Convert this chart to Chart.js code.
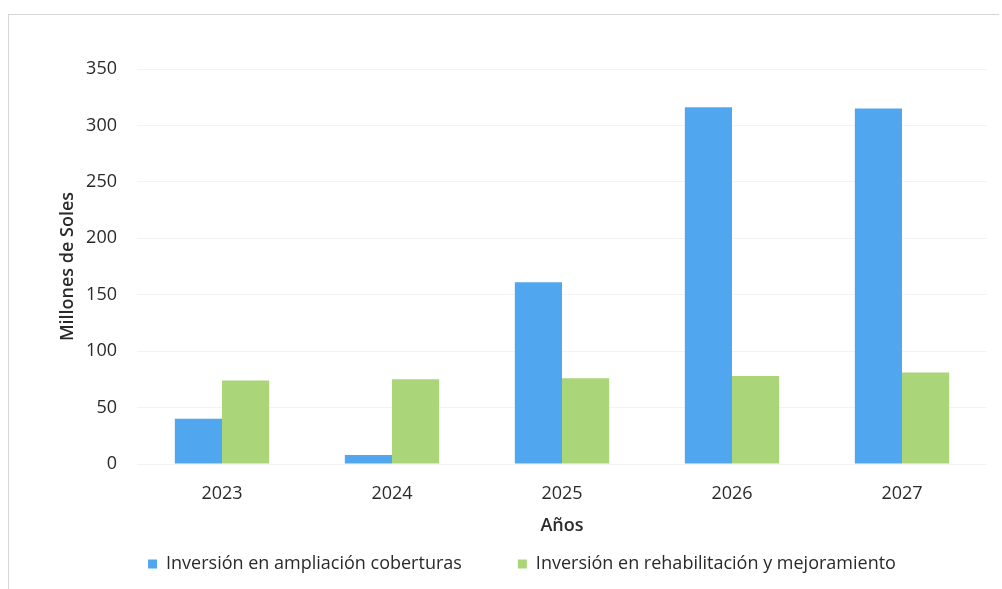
<!DOCTYPE html>
<html>
<head>
<meta charset="utf-8">
<script src="https://cdn.jsdelivr.net/npm/chart.js@4"></script>
<style>
  html, body { margin: 0; padding: 0; background: #fff; }
  #wrap { position: relative; width: 1002px; height: 589px; }
  #frame { position: absolute; left: 8px; top: 14px; width: 990px; height: 580px;
    border-top: 1px solid #d6d6d6; border-left: 1px solid #d6d6d6; pointer-events: none; }
</style>
</head>
<body>
<div id="wrap">
  <canvas id="chart" width="1002" height="589"></canvas>
  <div id="frame"></div>
</div>
<script>
// values (millones de soles)
var years = ['2023', '2024', '2025', '2026', '2027'];
var ampliacion = [40, 8, 161, 316, 315];
var rehabilitacion = [74, 75, 76, 78, 81];
var yTicks = [0, 50, 100, 150, 200, 250, 300, 350];

var serieNames = ['Inversión en ampliación coberturas', 'Inversión en rehabilitación y mejoramiento'];
var fontFam = '"Open Sans", "Noto Sans", sans-serif';
var textCol = '#2a2a2a';

new Chart(document.getElementById('chart'), {
  type: 'bar',
  data: {
    labels: years,
    datasets: [
      { label: serieNames[0], data: ampliacion, backgroundColor: '#50a7f0' },
      { label: serieNames[1], data: rehabilitacion, backgroundColor: '#aad679' }
    ]
  },
  options: {
    responsive: false,
    animation: false,
    layout: { padding: { left: 57, right: 15, top: 69, bottom: 6 } },
    datasets: { bar: { barPercentage: 1, categoryPercentage: 0.555 } },
    plugins: {
      tooltip: { enabled: false },
      legend: {
        position: 'bottom',
        labels: {
          boxWidth: 9, boxHeight: 9, padding: 38,
          color: textCol, font: { family: fontFam, size: 18 },
          // wider gap between the two items without a taller legend box
          generateLabels: function (chart) {
            var items = Chart.defaults.plugins.legend.labels.generateLabels(chart);
            items[0].text = items[0].text + '\u2003';
            return items;
          }
        }
      }
    },
    scales: {
      x: {
        afterFit: function (axis) { axis.height = 53; },
        grid: { display: false },
        border: { display: false },
        ticks: { color: textCol, font: { family: fontFam, size: 18 }, padding: 11 },
        title: { display: true, text: 'Años', color: textCol,
          font: { family: fontFam, size: 18, weight: '600' }, padding: { top: 0, bottom: -20 } }
      },
      y: {
        min: 0, max: 350,
        afterBuildTicks: function (axis) {
          axis.ticks = yTicks.map(function (v) { return { value: v }; });
        },
        afterFit: function (axis) { axis.width = 80; },
        grid: { color: '#f3f3f3', drawTicks: false },
        border: { display: false },
        ticks: { color: textCol, font: { family: fontFam, size: 18 }, padding: 20 },
        title: { display: true, text: 'Millones de Soles', color: textCol,
          font: { family: fontFam, size: 18, weight: '600' }, padding: { top: 0, bottom: 8 } }
      }
    }
  }
});
</script>
</body>
</html>
